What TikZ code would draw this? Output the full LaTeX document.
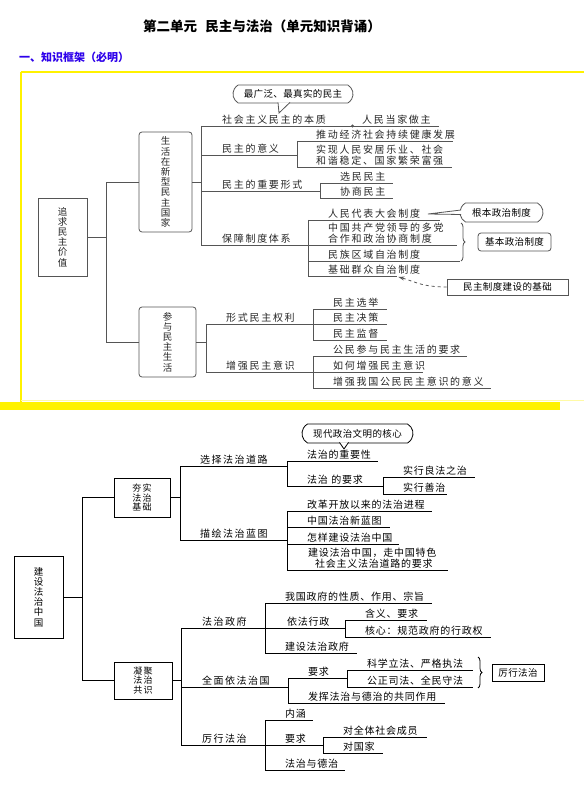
\documentclass[tikz,border=0pt]{standalone}
\usepackage{fontspec}
\setmainfont{Noto Sans CJK SC}
\newfontfamily\lblA[LetterSpace=17]{Noto Sans CJK SC}
\newfontfamily\lblB[LetterSpace=15]{Noto Sans CJK SC}
\newfontfamily\lblC[LetterSpace=7.5]{Noto Sans CJK SC}
\newfontfamily\notefont[LetterSpace=4]{Noto Sans CJK SC}
\usepackage{tikz}
\usetikzlibrary{positioning,shapes.misc,calc,arrows.meta,decorations.pathreplacing}
\usepackage{xcolor}
\definecolor{hdblue}{RGB}{45,0,235}
\definecolor{lineA}{RGB}{85,85,85}

\begin{document}
\begin{tikzpicture}[x=1pt,y=-1pt,
    ula/.style 2 args={anchor=south west,inner xsep=0pt,inner ysep=1.6pt,text width=#1pt,align=left,
        font=\lblA\fontsize{10pt}{11pt}\selectfont,text=black!85,
        execute at begin node={\leftskip=#2pt\relax\hfuzz=60pt\relax},
        append after command={(\tikzlastnode.south west) edge[draw=lineA,line width=0.8pt] (\tikzlastnode.south east)}},
    ulb/.style 2 args={anchor=south west,inner xsep=0pt,inner ysep=1.6pt,text width=#1pt,align=left,
        font=\lblB\fontsize{10pt}{11pt}\selectfont,
        execute at begin node={\leftskip=#2pt\relax\hfuzz=60pt\relax},
        append after command={(\tikzlastnode.south west) edge[draw=black,line width=0.8pt] (\tikzlastnode.south east)}},
    ulc/.style 2 args={anchor=south west,inner xsep=0pt,inner ysep=1.6pt,text width=#1pt,align=left,
        font=\lblC\fontsize{10pt}{10.5pt}\selectfont,
        execute at begin node={\leftskip=#2pt\relax\hfuzz=60pt\relax},
        append after command={(\tikzlastnode.south west) edge[draw=black,line width=0.8pt] (\tikzlastnode.south east)}},
    lnA/.style={draw=lineA,line width=0.8pt},
    ln/.style={draw=black,line width=0.8pt},
    vbox/.style={draw=lineA,line width=0.8pt,align=center,inner sep=0pt,text=black!85,font=\fontsize{9.5pt}{10.2pt}\selectfont},
    vbox2/.style={draw=black,line width=0.8pt,align=center,inner sep=0pt,font=\fontsize{9.5pt}{10.2pt}\selectfont},
    sbox/.style={draw=black,line width=0.8pt,align=center,inner sep=0pt,font=\lblB\fontsize{9pt}{9.8pt}\selectfont},
    noteround/.style={rounded rectangle,rounded rectangle arc length=120,draw,line width=0.8pt,fill=white,inner sep=0pt,font=\notefont\fontsize{9.5pt}{10pt}\selectfont},
    notebox/.style={rectangle,draw,line width=0.8pt,fill=white,inner sep=0pt,font=\notefont\fontsize{9.5pt}{10pt}\selectfont}]

    \useasboundingbox (0,0) rectangle (584,786);
    \fill[white] (0,0) rectangle (584,786);

    \node[font=\bfseries\fontsize{13.5pt}{15pt}\selectfont] (title) at (262,26) {第二单元\hspace{0.6em}民主与法治（单元知识背诵）};
    \node[anchor=west,inner sep=0pt,text=hdblue,font=\bfseries\fontsize{11pt}{12pt}\selectfont] (head) at (19,57) {一、知识框架（必明）};

    \draw[yellow,line width=2.5pt] (21,72) -- (584,72);
    \draw[yellow,line width=2pt] (21,72) -- (21,402);
    \draw[yellow!35,line width=1pt] (21,400) -- (584,400);
    \fill[yellow] (0,402) rectangle (560,410);

    \node[vbox,minimum width=49pt,minimum height=78pt] (root1) at (62.5,237) {追\\求\\民\\主\\价\\值};
    \node[vbox,rounded corners=3pt,minimum width=53pt,minimum height=100pt] (home) at (165.5,182) {生\\活\\在\\新\\型\\民\\主\\国\\家};
    \node[vbox,rounded corners=3pt,minimum width=57pt,minimum height=70pt] (life) at (167.5,342) {参\\与\\民\\主\\生\\活};

    \draw[lnA] (root1.east) -- ++(19,0) coordinate (rj1);
    \draw[lnA] (home.west) -| (rj1) |- (life.west);

    \node[ula={151}{21}] (essence) at (201,126) {社会主义民主的本质};
    \node[ula={87}{10}] (master) at (352,126) {人民当家做主};
    \node[ula={96}{21}] (meaning) at (201,155) {民主的意义};
    \node[ula={156}{19}] (develop) at (297,141) {推动经济社会持续健康发展};
    \node[ula={155}{19}] (happy) at (297,167) {实现人民安居乐业、社会\\和谐稳定、国家繁荣富强};
    \node[ula={119}{21}] (form) at (201,191) {民主的重要形式};
    \node[ula={73}{20}] (elect) at (320,183) {选民民主};
    \node[ula={73}{20}] (consult) at (320,198) {协商民主};
    \node[ula={107}{21}] (system) at (201,245) {保障制度体系};
    \node[ula={132}{20}] (congress) at (308,220) {人民代表大会制度};
    \node[ula={149}{20}] (cpc) at (308,245) {中国共产党领导的多党\\合作和政治协商制度};
    \node[ula={152}{20}] (ethnic) at (308,261) {民族区域自治制度};
    \node[ula={89}{20}] (grass) at (308,276) {基础群众自治制度};

    \draw[lnA] (home.east) -- (home.east -| essence.south west);
    \draw[lnA] (essence.south west) -- (system.south west);
    \draw[lnA] (develop.south west) -- (happy.south west);
    \draw[lnA] (elect.south west) -- (consult.south west);
    \draw[lnA] (congress.south west) -- (grass.south west);
    \fill[lineA] (essence.south east) circle (1.6pt);

    \node[ula={107}{20}] (rights) at (206,324) {形式民主权利};
    \node[ula={74}{20}] (vote) at (313,309) {民主选举};
    \node[ula={74}{20}] (decide) at (313,324) {民主决策};
    \node[ula={74}{20}] (watch) at (313,340) {民主监督};
    \node[ula={107}{20}] (aware) at (206,372) {增强民主意识};
    \node[ula={154}{20}] (need) at (313,356) {公民参与民主生活的要求};
    \node[ula={110}{20}] (how) at (313,372) {如何增强民主意识};
    \node[ula={178}{20}] (why) at (313,388) {增强我国公民民主意识的意义};

    \draw[lnA] (life.east) -- (life.east -| rights.south west);
    \draw[lnA] (rights.south west) -- (aware.south west);
    \draw[lnA] (vote.south west) -- (watch.south west);
    \draw[lnA] (need.south west) -- (why.south west);

    \node[noteround,draw=lineA,minimum width=120pt,minimum height=18pt] (widest) at (293,94) {最广泛、最真实的民主};
    \coordinate (tipA) at (279,113);
    \draw[lnA,fill=white] ($(widest.south)+(-15,-1)$) -- (tipA) -- ($(widest.south)+(-3,-1)$);

    \node[noteround,draw=lineA,minimum width=83pt,minimum height=19pt] (fundamental) at (501.5,212.5) {根本政治制度};
    \coordinate (tipB) at (428,214);
    \draw[lnA,fill=white] ($(fundamental.west)+(1.5,-2.5)$) -- (tipB) -- ($(fundamental.west)+(1.5,2)$);

    \node[notebox,draw=lineA,rounded corners=3pt,minimum width=73pt,minimum height=18pt] (basic) at (514.5,242) {基本政治制度};
    \draw[lnA,decorate,decoration={brace,amplitude=4pt}] (461,223) -- (461,261);

    \node[notebox,draw=lineA,minimum width=121pt,minimum height=16pt] (found) at (507.5,287) {民主制度建设的基础};
    \draw[lnA,dashed,-{Stealth[length=6pt,width=4pt]}] (found.west) .. controls ($(found.west)+(-25,0)$) and ($(grass.south east)+(16,5)$) .. ($(grass.south east)+(1,1)$);

    \node[vbox2,minimum width=49pt,minimum height=82pt] (root2) at (38.5,597) {建\\设\\法\\治\\中\\国};
    \node[sbox,minimum width=56pt,minimum height=39pt] (base) at (142,497.5) {夯实\\法治\\基础};
    \node[sbox,minimum width=58pt,minimum height=37pt] (unite) at (143,680.5) {凝聚\\法治\\共识};

    \draw[ln] (root2.east) -- ++(19,0) coordinate (rj2);
    \draw[ln] (base.west) -| (rj2) |- (unite.west);

    \node[ulb={107}{20}] (road) at (180,466) {选择法治道路};
    \node[ulc={91}{20}] (import) at (287,461) {法治的重要性};
    \node[ulc={96}{20}] (req) at (287,486) {法治 的要求};
    \node[ulc={92}{20}] (goodlaw) at (383,477) {实行良法之治};
    \node[ulc={64}{20}] (goodgov) at (383,494) {实行善治};
    \node[ulb={107}{20}] (blue) at (180,540) {描绘法治蓝图};
    \node[ulc={145}{20}] (history) at (287,511) {改革开放以来的法治进程};
    \node[ulc={103}{20}] (newmap) at (287,527) {中国法治新蓝图};
    \node[ulc={112}{20}] (build) at (287,544) {怎样建设法治中国};
    \node[ulc={161}{21}] (path) at (287,570) {建设法治中国，走中国特色\\\hspace*{7pt}社会主义法治道路的要求};

    \draw[ln] (base.east) -- (base.east -| road.south west);
    \draw[ln] (road.south west) -- (blue.south west);
    \draw[ln] (import.south west) -- (req.south west);
    \draw[ln] (goodlaw.south west) -- (goodgov.south west);
    \draw[ln] (history.south west) -- (path.south west);

    \node[noteround,minimum width=111pt,minimum height=19pt] (core) at (357.5,433.5) {现代政治文明的核心};
    \coordinate (tipC) at (344,449);
    \draw[ln,fill=white] ($(core.south)+(-18,-1)$) -- (tipC) -- ($(core.south)+(-9,-1)$);

    \node[ulb={84}{21}] (gov) at (181,628) {法治政府};
    \node[ulc={167}{20}] (nature) at (265,603) {我国政府的性质、作用、宗旨};
    \node[ulc={80}{22}] (admin) at (265,628) {依法行政};
    \node[ulc={82}{20}] (mean) at (345,620) {含义、要求};
    \node[ulc={146}{20}] (heart) at (345,637) {核心：规范政府的行政权};
    \node[ulc={92}{20}] (govbuild) at (265,653) {建设法治政府};

    \node[ulb={107}{21}] (whole) at (181,687) {全面依法治国};
    \node[ulc={59}{20}] (ask) at (288,678) {要求};
    \node[ulc={126}{20}] (sci) at (347,670) {科学立法、严格执法};
    \node[ulc={126}{20}] (fair) at (347,687) {公正司法、全民守法};
    \node[ulc={157}{20}] (both) at (288,703) {发挥法治与德治的共同作用};
    \draw[ln,decorate,decoration={brace,amplitude=4pt}] (478,657) -- (478,688);
    \node[notebox,minimum width=52pt,minimum height=17pt] (act) at (518,672.5) {厉行法治};

    \node[ulb={84}{21}] (practice) at (181,745) {厉行法治};
    \node[ulc={48}{20}] (connot) at (265,720) {内涵};
    \node[ulc={58}{20}] (ask2) at (265,745) {要求};
    \node[ulc={104}{20}] (allmem) at (323,737) {对全体社会成员};
    \node[ulc={60}{20}] (state) at (323,753) {对国家};
    \node[ulc={80}{20}] (virtue) at (265,770) {法治与德治};

    \draw[ln] (unite.east) -- (unite.east -| gov.south west);
    \draw[ln] (gov.south west) -- (practice.south west);
    \draw[ln] (nature.south west) -- (govbuild.south west);
    \draw[ln] (mean.south west) -- (heart.south west);
    \draw[ln] (ask.south west) -- (both.south west);
    \draw[ln] (sci.south west) -- (fair.south west);
    \draw[ln] (connot.south west) -- (virtue.south west);
    \draw[ln] (allmem.south west) -- (state.south west);
\end{tikzpicture}
\end{document}
